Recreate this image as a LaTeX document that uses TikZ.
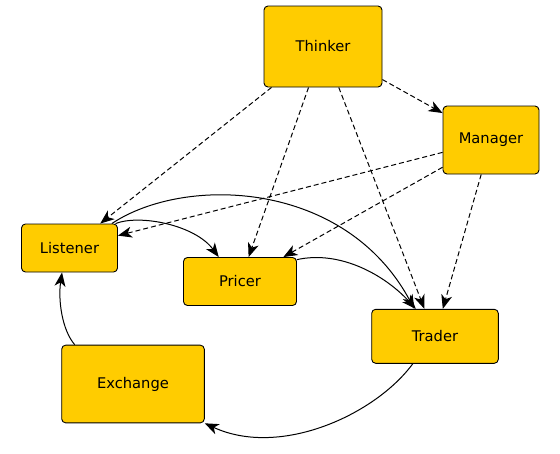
\documentclass[tikz,border=0pt]{standalone}
\usepackage{fontspec}
\setmainfont{DejaVu Sans}
\usetikzlibrary{arrows.meta}
\definecolor{boxfill}{HTML}{FFCC00}
\begin{document}
\begin{tikzpicture}[x=1pt,y=-1pt,
  box/.style={draw=black, line width=0.9pt, fill=boxfill, rounded corners=4pt, inner sep=0pt,
    font=\fontsize{14.7}{17}\selectfont},
  >={Stealth[length=14pt,width=11pt,inset=4pt]},
  conn/.style={line width=1pt, ->},
  dconn/.style={conn, dash pattern=on 5pt off 3pt}]
\useasboundingbox (0,0) rectangle (560,453);
\node[box, minimum width=118pt, minimum height=81pt] (thinker) at (323,46.5) {Thinker};
\node[box, minimum width=96pt, minimum height=68pt] (manager) at (491,140) {Manager};
\node[box, minimum width=96pt, minimum height=48pt] (listener) at (69.5,248) {Listener};
\node[box, minimum width=113pt, minimum height=48pt] (pricer) at (240,281.5) {Pricer};
\node[box, minimum width=126.6pt, minimum height=54pt] (trader) at (435,336.3) {Trader};
\node[box, minimum width=142.6pt, minimum height=77.7pt] (exchange) at (133,384) {Exchange};
% dashed
\draw[dconn] (thinker) -- (listener);
\draw[dconn] (thinker) -- (pricer);
\draw[dconn] (thinker) -- (trader);
\draw[dconn] (thinker) -- (manager);
\draw[dconn] (manager) -- (listener);
\draw[dconn] (manager) -- (pricer);
\draw[dconn] (manager) -- (trader);
% solid
\draw[conn] (listener.28) .. controls (140,214) and (195,225) .. (pricer.131);
\draw[conn] (listener.30) .. controls (185,175) and (345,180) .. (trader.127);
\draw[conn] (pricer.21) .. controls (340,250) and (385,275) .. (trader.125);
\draw[conn] (trader.-129) .. controls (375,415) and (280,458) .. (exchange.south east);
\draw[conn] (exchange.146) .. controls (62,330) and (58,300) .. (listener.253);
\end{tikzpicture}
\end{document}
